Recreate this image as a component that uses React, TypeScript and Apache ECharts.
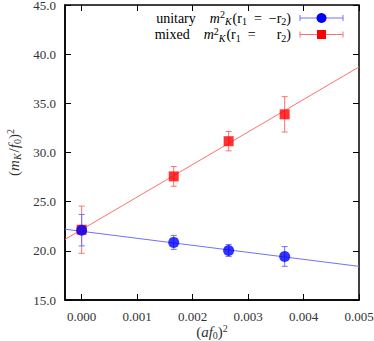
import React, { useEffect, useRef } from "react";
import * as echarts from "echarts";

const xValues = [0, 0.00166, 0.00265, 0.00366];
const unitaryY = [22.1, 20.86, 20.04, 19.43];
const unitaryErr = [1.6, 0.71, 0.61, 1.0];
const mixedY = [22.15, 27.57, 31.15, 33.88];
const mixedErr = [2.4, 1.0, 0.98, 1.8];
const unitaryFit = [[-0.0003, 22.2], [0.005, 18.42]];
const mixedFit = [[-0.0003, 21.17], [0.005, 38.7]];
const xTicks = [0, 0.001, 0.002, 0.003, 0.004, 0.005];

const FONT = "Liberation Serif";
const BLUE = "#0000ff";
const BLUE_LIGHT = "#7070ff";
const RED = "#ff0000";
const RED_LIGHT = "#ff7070";

function errorSeries(name: string, ys: number[], errs: number[], color: string, z: number) {
  return {
    type: "custom",
    name,
    z,
    data: xValues.map((x, i) => [x, ys[i], ys[i] - errs[i], ys[i] + errs[i]]),
    encode: { x: 0, y: [1, 2, 3] },
    renderItem: (params: any, api: any) => {
      const x = api.value(0);
      const top = api.coord([x, api.value(3)]);
      const bot = api.coord([x, api.value(2)]);
      const w = 3;
      const st = { stroke: color, lineWidth: 1 };
      return {
        type: "group",
        children: [
          { type: "line", shape: { x1: top[0], y1: top[1], x2: bot[0], y2: bot[1] }, style: st },
          { type: "line", shape: { x1: top[0] - w, y1: top[1], x2: top[0] + w, y2: top[1] }, style: st },
          { type: "line", shape: { x1: bot[0] - w, y1: bot[1], x2: bot[0] + w, y2: bot[1] }, style: st },
        ],
      };
    },
  };
}

const TC = "#333";
function makeRich(size: number) {
  const s = Math.round(size * 0.68);
  return {
    n: { fontFamily: FONT, fontSize: size, color: TC },
    i: { fontFamily: FONT, fontSize: size, fontStyle: "italic", color: TC },
    sup: { fontFamily: FONT, fontSize: s, color: TC, verticalAlign: "top", padding: [0, 0, 7, 0] },
    sub: { fontFamily: FONT, fontSize: s, color: TC, verticalAlign: "bottom", padding: [5, 0, 0, 0] },
    subi: { fontFamily: FONT, fontSize: s, fontStyle: "italic", color: TC, verticalAlign: "bottom", padding: [5, 1, 0, 0] },
  };
}
const richLegend = makeRich(14);
const richName = makeRich(15);

export default function App() {
  const ref = useRef<HTMLDivElement>(null);
  useEffect(() => {
    if (!ref.current) return;
    const chart = echarts.init(ref.current, null, { renderer: "svg" });
    const axisLabelStyle = { fontFamily: FONT, fontSize: 13, color: TC };
    chart.setOption({
      animation: false,
      backgroundColor: "#fff",
      textStyle: { fontFamily: FONT },
      grid: {
        left: 65,
        right: 15,
        top: 5,
        bottom: 41,
        containLabel: false,
        outerBoundsMode: "none",
        show: true,
        borderColor: "#000",
        borderWidth: 1.5,
      },
      xAxis: [
        {
          type: "value",
          min: -0.0003,
          max: 0.005,
          name: "({i|af}{sub|0}){sup|2}",
          nameLocation: "middle",
          nameGap: 23,
          nameMoveOverlap: false,
          nameTextStyle: { fontFamily: FONT, fontSize: 15, color: TC, rich: richName },
          axisLine: { show: true, onZero: false, lineStyle: { color: "#000", width: 1.5 } },
          axisTick: { show: true, inside: true, length: 6, customValues: xTicks, lineStyle: { color: "#000" } },
          axisLabel: { ...axisLabelStyle, margin: 10, customValues: xTicks, formatter: (v: number) => v.toFixed(3) },
          splitLine: { show: false },
        },
        {
          type: "value",
          position: "top",
          min: -0.0003,
          max: 0.005,
          axisLine: { show: false, onZero: false },
          axisTick: { show: true, inside: true, length: 6, customValues: xTicks, lineStyle: { color: "#000" } },
          axisLabel: { show: false },
          splitLine: { show: false },
        },
      ],
      yAxis: [
        {
          type: "value",
          min: 15,
          max: 45,
          interval: 5,
          name: "({i|m}{subi|K}{n|/}{i|f}{sub|0}){sup|2}",
          nameLocation: "middle",
          nameGap: 43,
          nameRotate: 90,
          nameTextStyle: { fontFamily: FONT, fontSize: 15, color: TC, rich: richName },
          axisLine: { show: true, onZero: false, lineStyle: { color: "#000", width: 1.5 } },
          axisTick: { show: true, inside: true, length: 6, lineStyle: { color: "#000" } },
          axisLabel: { ...axisLabelStyle, margin: 9, formatter: (v: number) => v.toFixed(1) },
          splitLine: { show: false },
        },
        {
          type: "value",
          position: "right",
          min: 15,
          max: 45,
          interval: 5,
          axisLine: { show: false, onZero: false },
          axisTick: { show: true, inside: true, length: 6, lineStyle: { color: "#000" } },
          axisLabel: { show: false },
          splitLine: { show: false },
        },
      ],
      series: [
        {
          type: "line",
          name: "unitary fit",
          data: unitaryFit,
          showSymbol: false,
          lineStyle: { color: BLUE_LIGHT, width: 1 },
          z: 1,
        },
        {
          type: "line",
          name: "mixed fit",
          data: mixedFit,
          showSymbol: false,
          lineStyle: { color: RED_LIGHT, width: 1 },
          z: 1,
        },
        errorSeries("mixed err", mixedY, mixedErr, RED_LIGHT, 2),
        {
          type: "scatter",
          name: "mixed",
          data: xValues.map((x, i) => [x, mixedY[i]]),
          symbol: "rect",
          symbolSize: 10,
          itemStyle: { color: RED },
          z: 3,
        },
        errorSeries("unitary err", unitaryY, unitaryErr, BLUE_LIGHT, 4),
        {
          type: "scatter",
          name: "unitary",
          data: xValues.map((x, i) => [x, unitaryY[i]]),
          symbol: "circle",
          symbolSize: 11,
          itemStyle: { color: BLUE },
          z: 5,
        },
      ],
      graphic: [
        {
          type: "text",
          x: 291,
          y: 18,
          z: 10,
          style: {
            text: "{n|unitary    }{i|m}{sup|2}{subi|K}{n|(r}{sub|1}{n|  =  −r}{sub|2}{n|)}",
            rich: richLegend,
            align: "right",
            verticalAlign: "middle",
          },
        },
        {
          type: "text",
          x: 291,
          y: 34.5,
          z: 10,
          style: {
            text: "{n|mixed    }{i|m}{sup|2}{subi|K}{n|(r}{sub|1}{n|  =      r}{sub|2}{n|)}",
            rich: richLegend,
            align: "right",
            verticalAlign: "middle",
          },
        },
        { type: "line", z: 10, shape: { x1: 300, y1: 18, x2: 343, y2: 18 }, style: { stroke: BLUE_LIGHT, lineWidth: 1 } },
        { type: "line", z: 10, shape: { x1: 300, y1: 15, x2: 300, y2: 21 }, style: { stroke: BLUE_LIGHT, lineWidth: 1 } },
        { type: "line", z: 10, shape: { x1: 343, y1: 15, x2: 343, y2: 21 }, style: { stroke: BLUE_LIGHT, lineWidth: 1 } },
        { type: "circle", z: 11, shape: { cx: 321.5, cy: 18, r: 5 }, style: { fill: BLUE } },
        { type: "line", z: 10, shape: { x1: 300, y1: 34.5, x2: 343, y2: 34.5 }, style: { stroke: RED_LIGHT, lineWidth: 1 } },
        { type: "line", z: 10, shape: { x1: 300, y1: 31.5, x2: 300, y2: 37.5 }, style: { stroke: RED_LIGHT, lineWidth: 1 } },
        { type: "line", z: 10, shape: { x1: 343, y1: 31.5, x2: 343, y2: 37.5 }, style: { stroke: RED_LIGHT, lineWidth: 1 } },
        { type: "rect", z: 11, shape: { x: 317, y: 30, width: 9, height: 9 }, style: { fill: RED } },
      ],
    });
    return () => chart.dispose();
  }, []);
  return <div ref={ref} style={{ position: "fixed", left: 0, top: 0, width: 374, height: 341 }} />;
}
